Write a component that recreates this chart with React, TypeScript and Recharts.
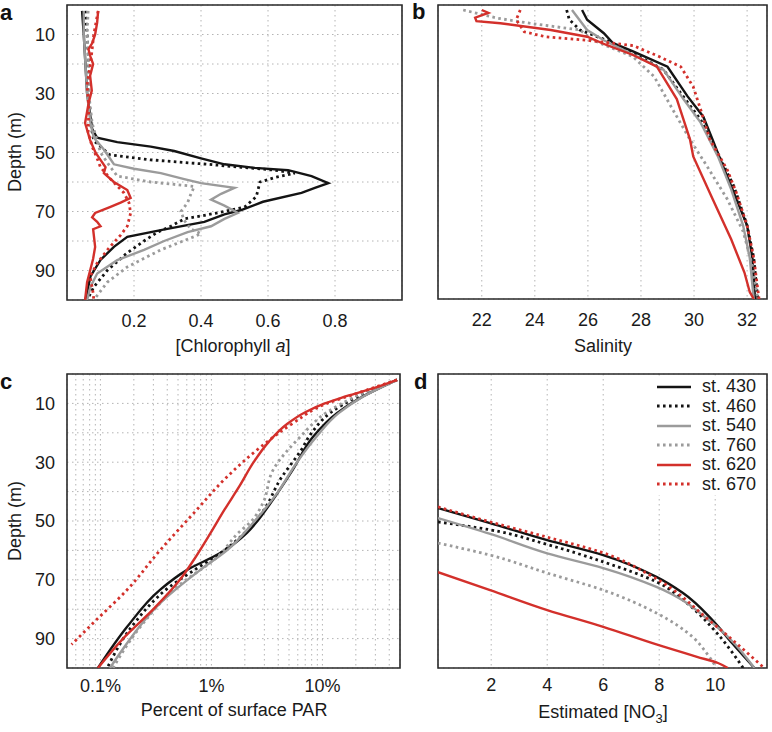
import React from "react";
import { LineChart, Line, XAxis, YAxis, CartesianGrid, ReferenceArea } from "recharts";

// station order as in the legend
const stations = ["st. 430", "st. 460", "st. 540", "st. 760", "st. 620", "st. 670"];

const depthTicks = [10, 20, 30, 40, 50, 60, 70, 80, 90];
const chlTicks = [0.2, 0.4, 0.6, 0.8];
const salTicks = [22, 24, 26, 28, 30, 32];
const parTicks = [
  0.05, 0.06, 0.07, 0.08, 0.09, 0.1, 0.2, 0.3, 0.4, 0.5, 0.6, 0.7, 0.8, 0.9,
  1, 2, 3, 4, 5, 6, 7, 8, 9, 10, 20, 30, 40, 50,
];
const parLabels = [0.1, 1, 10];
const no3Ticks = [2, 4, 6, 8, 10];

// [depth (m), value]
const chl430: [number, number][] = [
  [2, 0.045], [10, 0.05], [20, 0.055], [30, 0.06], [38, 0.07], [42, 0.075], [45, 0.09],
  [46.5, 0.15], [48, 0.25], [49.5, 0.32], [52, 0.4], [54, 0.47], [55.2, 0.56], [56, 0.66],
  [58, 0.73], [60.4, 0.78], [62, 0.74], [63.7, 0.7], [66.7, 0.585], [69.5, 0.52], [71, 0.47],
  [73.5, 0.41], [76.3, 0.28], [78.6, 0.18], [82, 0.14], [86.4, 0.1], [92, 0.07], [100, 0.055],
];
const chl460: [number, number][] = [
  [2, 0.054], [10, 0.06], [20, 0.065], [30, 0.065], [40, 0.07], [46, 0.08], [50.8, 0.128],
  [52.5, 0.25], [54, 0.42], [55, 0.52], [56, 0.62], [57, 0.68], [58.5, 0.62], [60, 0.576],
  [65, 0.565], [68.5, 0.53], [70, 0.47], [71.5, 0.4], [72.5, 0.35], [75, 0.31], [77, 0.27],
  [80, 0.23], [84, 0.18], [90, 0.12], [95.6, 0.08], [100, 0.06],
];
const chl540: [number, number][] = [
  [2, 0.05], [10, 0.05], [20, 0.055], [30, 0.06], [40, 0.07], [45, 0.08], [49, 0.11],
  [54, 0.14], [55.5, 0.2], [57, 0.28], [59, 0.35], [60.4, 0.4], [62, 0.5], [64, 0.46],
  [66, 0.43], [68, 0.47], [70.5, 0.51], [72.5, 0.47], [75, 0.43], [77, 0.36], [80, 0.29],
  [83, 0.23], [86.5, 0.15], [91, 0.09], [95.6, 0.07], [100, 0.06],
];
const chl760: [number, number][] = [
  [2, 0.063], [10, 0.06], [20, 0.065], [30, 0.065], [40, 0.075], [50, 0.1], [55, 0.13],
  [58, 0.15], [60, 0.25], [61.5, 0.38], [64, 0.37], [67, 0.36], [70, 0.34], [73, 0.35],
  [76, 0.37], [77.5, 0.4], [78.5, 0.38], [83, 0.28], [88.8, 0.18], [94, 0.12], [100, 0.08],
];
const chl620: [number, number][] = [
  [2, 0.093], [6, 0.09], [10, 0.084], [13, 0.075], [15, 0.064], [17.5, 0.07], [20, 0.078],
  [24, 0.069], [29, 0.074], [33, 0.065], [40, 0.054], [45.8, 0.069], [50, 0.085],
  [52.5, 0.1], [55, 0.115], [57, 0.11], [60, 0.14], [62.7, 0.18], [65.4, 0.19], [67, 0.16],
  [68.5, 0.128], [70.5, 0.084], [72, 0.075], [73.5, 0.09], [75, 0.1], [76, 0.078],
  [82, 0.084], [86, 0.078], [90, 0.069], [94, 0.06], [100, 0.054],
];
const chl670: [number, number][] = [
  [2, 0.093], [10, 0.08], [20, 0.07], [27, 0.06], [35, 0.065], [43, 0.063], [48, 0.075],
  [52, 0.09], [55, 0.1], [59, 0.13], [63.7, 0.17], [67, 0.185], [70.5, 0.19], [75, 0.18],
  [78, 0.16], [82, 0.128], [87.5, 0.09], [92, 0.069], [97.6, 0.078], [100, 0.08],
];

const sal430: [number, number][] = [
  [1.7, 25.78], [5, 25.97], [9.6, 26.6], [13, 26.95], [15.8, 27.7], [21, 29.0], [31, 29.75],
  [38, 30.35], [45.8, 30.7], [55, 31.1], [66, 31.6], [75, 32.0], [86, 32.2], [100, 32.3],
];
const sal460: [number, number][] = [
  [1.7, 25.2], [5, 25.3], [8.5, 25.7], [12, 26.7], [16.4, 27.7], [22, 28.85], [30, 29.5],
  [39, 30.25], [52.5, 31.0], [61.6, 31.5], [75, 32.0], [86, 32.25], [100, 32.4],
];
const sal540: [number, number][] = [
  [1.7, 25.4], [8.5, 25.97], [12, 26.6], [16.4, 27.6], [22, 28.85], [32, 29.6], [40, 30.25],
  [51.5, 30.9], [62.7, 31.4], [75, 31.85], [86, 32.1], [100, 32.25],
];
const sal760: [number, number][] = [
  [1.7, 21.3], [4.5, 22.6], [6.2, 23.8], [8.5, 25.7], [12, 26.2], [17.6, 27.7], [24.4, 28.5],
  [35.6, 29.2], [45.8, 29.85], [55, 30.5], [66, 31.25], [77, 31.85], [88.7, 32.2], [100, 32.4],
];
const sal620: [number, number][] = [
  [1.7, 22.0], [2.7, 22.25], [4.3, 21.75], [5.5, 21.8], [6.2, 22.7], [8.5, 24.6],
  [10.8, 25.97], [13.6, 26.7], [17, 27.7], [21, 28.6], [32, 29.35], [45.8, 29.85],
  [51.5, 29.97], [66, 30.7], [79.7, 31.4], [91, 31.9], [97.6, 32.1], [100, 32.25],
];
const sal670: [number, number][] = [
  [1.7, 23.45], [5, 23.3], [9.1, 23.6], [10.8, 24.4], [12, 25.97], [12.5, 26.46],
  [13.8, 27.7], [17.6, 28.7], [21, 29.5], [27.8, 29.97], [35.6, 30.25], [45.8, 30.6],
  [56, 31.25], [64, 31.6], [75, 32.0], [86, 32.25], [100, 32.45],
];

const par430: [number, number][] = [
  [2, 47], [8.2, 21.8], [13.3, 13.5], [21.4, 8.2], [32.6, 5.4], [44, 3.4], [50, 2.6],
  [54, 2.09], [61, 1.19], [66.7, 0.6], [73.4, 0.344], [86, 0.174], [100, 0.095],
];
const par460: [number, number][] = [
  [2, 47], [8, 20], [13, 12], [20, 8], [26, 6.4], [36, 4.15], [46, 3.0], [50, 2.5],
  [54, 2.0], [61, 1.2], [66.7, 0.7], [72.4, 0.42], [85, 0.2], [100, 0.115],
];
const par540: [number, number][] = [
  [2, 47], [8.2, 22], [13.3, 14], [21.4, 8.8], [30, 5.9], [40, 4.0], [50.7, 2.37],
  [60, 1.38], [66.7, 0.79], [78, 0.344], [95, 0.15], [100, 0.122],
];
const par760: [number, number][] = [
  [2, 47], [8, 19], [13, 11], [21.4, 6.3], [32.6, 3.6], [44, 2.9], [50, 2.3], [54, 1.75],
  [62, 1.15], [72.4, 0.49], [85, 0.24], [96, 0.15], [100, 0.13],
];
const par620: [number, number][] = [
  [2, 47], [5, 28], [8, 15], [10, 10.5], [13, 7.0], [17, 4.8], [23, 3.3], [30, 2.4],
  [38, 1.8], [46, 1.32], [55, 0.95], [63, 0.7], [70, 0.52], [80, 0.3], [90, 0.16], [100, 0.095],
];
const par670: [number, number][] = [
  [2, 47], [7, 18.9], [10, 11], [16.8, 5.4], [25, 2.74], [35, 1.38], [47.4, 0.69],
  [60, 0.344], [73.4, 0.174], [84.7, 0.086], [92, 0.055],
];

const no430: [number, number][] = [
  [45.6, 0.1], [50.7, 1.96], [56.5, 4.0], [61.6, 6.0], [69, 7.9], [74.5, 8.85], [83.7, 9.9],
  [91.5, 10.6], [100, 11.4],
];
const no460: [number, number][] = [
  [50.3, 0.1], [53, 1.96], [58, 4.0], [63.9, 6.0], [70.7, 7.9], [78, 9.0], [86.4, 9.9],
  [100, 11.0],
];
const no540: [number, number][] = [
  [49, 0.1], [54.5, 2.0], [61, 4.0], [66, 6.0], [72.4, 7.9], [84.7, 9.9], [100, 11.4],
];
const no760: [number, number][] = [
  [57.5, 0.1], [61.6, 1.96], [67.7, 4.0], [73.5, 6.0], [81.3, 7.9], [89.5, 9.2], [95, 9.7],
  [100, 10.05],
];
const no620: [number, number][] = [
  [67.4, 0.1], [73.5, 1.96], [80.3, 4.0], [86, 6.0], [92, 7.9], [96.2, 9.35], [98.3, 10.1],
  [100, 10.45],
];
const no670: [number, number][] = [
  [45.2, 0.1], [50.3, 1.96], [55.5, 4.0], [60.5, 5.9], [68.4, 7.67], [84.7, 9.9], [100, 11.75],
];

const FONT = "'Liberation Sans', Arial, Helvetica, sans-serif";
const BLACK = "#141414";
const GRAY = "#9b9b9b";
const RED = "#d3302b";
const DOT = "2.6 3.4";

const styles: Record<string, { stroke: string; dash?: string }> = {
  "st. 430": { stroke: BLACK },
  "st. 460": { stroke: BLACK, dash: DOT },
  "st. 540": { stroke: GRAY },
  "st. 760": { stroke: GRAY, dash: DOT },
  "st. 620": { stroke: RED },
  "st. 670": { stroke: RED, dash: DOT },
};

const toRows = (pairs: [number, number][]) => pairs.map(([d, v]) => ({ d, v }));

type PanelProps = {
  left: number;
  top: number;
  width: number;
  height: number;
  margin: { top: number; right: number; bottom: number; left: number };
  yWidth: number;
  xHeight: number;
  xDomain: [number, number];
  xTicks: number[];
  xFormat?: (v: number) => string;
  xScale?: "log" | "linear";
  tickGap: number;
  showDepth: boolean;
  curve: "linear" | "monotone";
  series: [number, number][][];
};

function Panel(p: PanelProps) {
  const tickStyle = { fontSize: 18, fill: "#1a1a1a", fontFamily: FONT };
  return (
    <div style={{ position: "absolute", left: p.left, top: p.top }}>
      <LineChart layout="vertical" width={p.width} height={p.height} margin={p.margin}>
        <CartesianGrid stroke="#b4b4b4" strokeDasharray="1.5 3.5" />
        <XAxis
          type="number"
          domain={p.xDomain}
          scale={p.xScale ?? "linear"}
          ticks={p.xTicks}
          interval={0}
          allowDataOverflow
          axisLine={false}
          tickLine={false}
          tickMargin={p.tickGap}
          height={p.xHeight}
          tick={tickStyle}
          tickFormatter={p.xFormat}
        />
        {/* depth grows downward: vertical layout already puts the domain start on top */}
        <YAxis
          type="number"
          dataKey="d"
          domain={[0, 100]}
          ticks={depthTicks}
          interval={0}
          allowDataOverflow
          axisLine={false}
          tickLine={false}
          tickMargin={6}
          width={p.yWidth}
          tick={p.showDepth ? tickStyle : false}
          tickFormatter={(v: number) => (v % 20 === 10 ? String(v) : "")}
        />
        {p.series.map((pairs, i) => {
          const s = styles[stations[i]];
          return (
            <Line
              key={stations[i]}
              name={stations[i]}
              data={toRows(pairs)}
              dataKey="v"
              type={p.curve}
              stroke={s.stroke}
              strokeWidth={s.dash ? 2.8 : 2.4}
              strokeDasharray={s.dash}
              dot={false}
              isAnimationActive={false}
            />
          );
        })}
        <ReferenceArea
          x1={p.xDomain[0]}
          x2={p.xDomain[1]}
          y1={0}
          y2={100}
          fill="none"
          stroke="#2a2a2a"
          strokeWidth={1.6}
          ifOverflow="visible"
        />
      </LineChart>
    </div>
  );
}

const labelStyle: React.CSSProperties = {
  position: "absolute",
  width: 300,
  textAlign: "center",
  fontSize: 18,
  lineHeight: "22px",
  color: "#1a1a1a",
  whiteSpace: "nowrap",
};

function AxisTitle({ cx, cy, children }: { cx: number; cy: number; children: React.ReactNode }) {
  return <div style={{ ...labelStyle, left: cx - 150, top: cy - 11 }}>{children}</div>;
}

function DepthTitle({ cy }: { cy: number }) {
  return (
    <div style={{ ...labelStyle, width: 120, left: 15 - 60, top: cy - 11, transform: "rotate(-90deg)" }}>
      Depth (m)
    </div>
  );
}

function Letter({ x, y, ch }: { x: number; y: number; ch: string }) {
  return (
    <div style={{ position: "absolute", left: x, top: y, fontSize: 22, lineHeight: "22px", fontWeight: 700, color: "#111" }}>
      {ch}
    </div>
  );
}

function StationLegend() {
  return (
    <div style={{ position: "absolute", left: 652, top: 376, background: "#fff", padding: "1px 4px 1px 5px" }}>
      {stations.map((name) => {
        const s = styles[name];
        return (
          <div key={name} style={{ display: "flex", alignItems: "center", height: 19.5 }}>
            <svg width={34} height={6} style={{ display: "block" }}>
              <line
                x1={0}
                x2={34}
                y1={3}
                y2={3}
                stroke={s.stroke}
                strokeWidth={s.dash ? 2.8 : 2.4}
                strokeDasharray={s.dash}
              />
            </svg>
            <span style={{ marginLeft: 11, fontSize: 18, lineHeight: "19.5px", color: "#1a1a1a" }}>{name}</span>
          </div>
        );
      })}
    </div>
  );
}

export default function App() {
  return (
    <div
      style={{
        position: "absolute",
        left: 0,
        top: 0,
        width: 772,
        height: 732,
        background: "#fff",
        fontFamily: FONT,
        overflow: "hidden",
      }}
    >
      <Panel
        left={0}
        top={0}
        width={410}
        height={340}
        margin={{ top: 5, right: 8, bottom: 0, left: 0 }}
        yWidth={67}
        xHeight={40}
        xDomain={[0, 1]}
        xTicks={chlTicks}
        tickGap={8}
        showDepth
        curve="linear"
        series={[chl430, chl460, chl540, chl760, chl620, chl670]}
      />
      <Panel
        left={410}
        top={0}
        width={362}
        height={340}
        margin={{ top: 5, right: 5, bottom: 0, left: 0 }}
        yWidth={28}
        xHeight={41}
        xDomain={[20.35, 32.75]}
        xTicks={salTicks}
        tickGap={8}
        showDepth={false}
        curve="linear"
        series={[sal430, sal460, sal540, sal760, sal620, sal670]}
      />
      <Panel
        left={0}
        top={340}
        width={410}
        height={392}
        margin={{ top: 34, right: 10, bottom: 0, left: 0 }}
        yWidth={67}
        xHeight={64}
        xDomain={[0.05, 50]}
        xScale="log"
        xTicks={parTicks}
        xFormat={(v: number) => (parLabels.includes(v) ? `${v}%` : "")}
        tickGap={5}
        showDepth
        curve="monotone"
        series={[par430, par460, par540, par760, par620, par670]}
      />
      <Panel
        left={410}
        top={340}
        width={362}
        height={392}
        margin={{ top: 34, right: 5, bottom: 0, left: 0 }}
        yWidth={28}
        xHeight={64}
        xDomain={[0.1, 11.85]}
        xTicks={no3Ticks}
        tickGap={4}
        showDepth={false}
        curve="monotone"
        series={[no430, no460, no540, no760, no620, no670]}
      />

      <Letter x={0} y={2} ch="a" />
      <Letter x={412} y={1} ch="b" />
      <Letter x={0} y={371} ch="c" />
      <Letter x={414} y={371} ch="d" />

      <DepthTitle cy={152} />
      <DepthTitle cy={521} />

      <AxisTitle cx={233} cy={346}>
        [Chlorophyll <i>a</i>]
      </AxisTitle>
      <AxisTitle cx={603} cy={346}>Salinity</AxisTitle>
      <AxisTitle cx={234} cy={710}>Percent of surface PAR</AxisTitle>
      <AxisTitle cx={603} cy={712}>
        Estimated [NO<sub style={{ fontSize: 13, lineHeight: 0 }}>3</sub>]
      </AxisTitle>

      <StationLegend />
    </div>
  );
}
